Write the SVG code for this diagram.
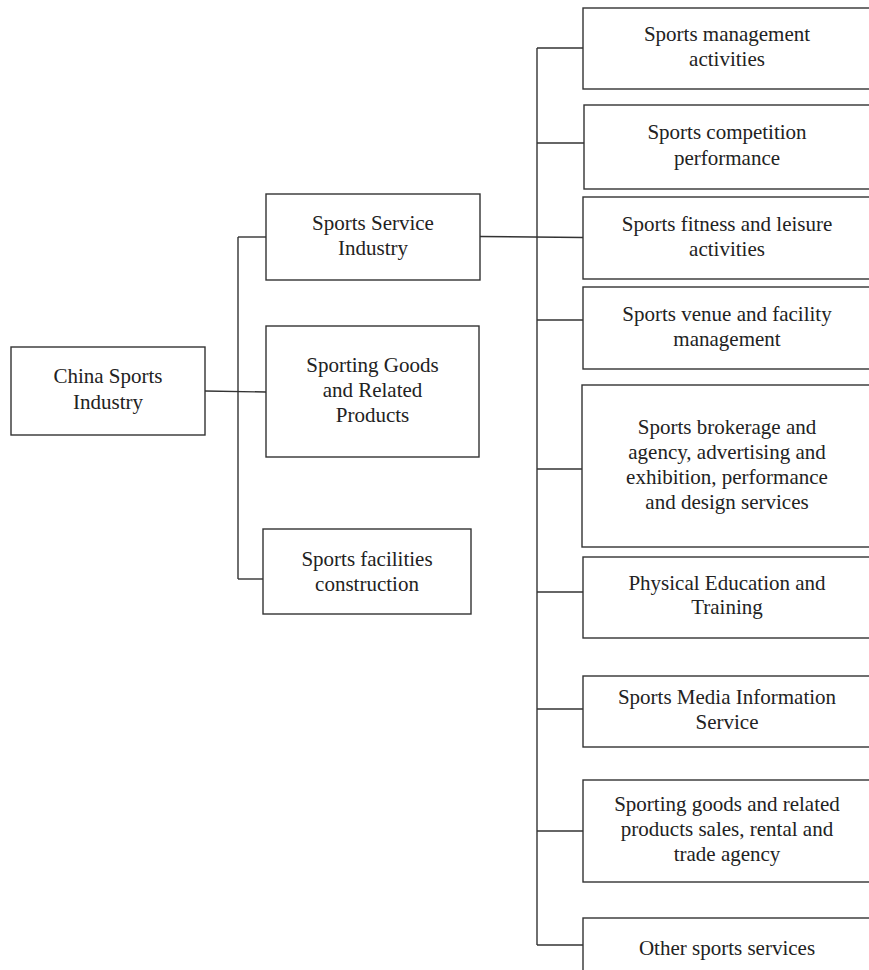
<svg xmlns="http://www.w3.org/2000/svg" width="869" height="970" viewBox="0 0 869 970">
<style>
.box{fill:#fff;stroke:#333;stroke-width:1.4}
.ln{fill:none;stroke:#333;stroke-width:1.4}
text{font-family:"Liberation Serif","Times New Roman",serif;font-size:21px;fill:#222;text-anchor:middle}
</style>
<rect width="869" height="970" fill="#fff"/>
<g id="connectors">
<path class="ln" d="M205,391 L266,392"/>
<path class="ln" d="M238,237 L238,579"/>
<path class="ln" d="M238,237 L266,237"/>
<path class="ln" d="M238,579 L263,579"/>
<path class="ln" d="M480,236.5 L583,237.5"/>
<path class="ln" d="M537,48 L537,945"/>
<path class="ln" d="M537,48 L583,48"/>
<path class="ln" d="M537,143 L584,143"/>
<path class="ln" d="M537,320 L583,320"/>
<path class="ln" d="M537,469 L583,469"/>
<path class="ln" d="M537,592 L583,592"/>
<path class="ln" d="M537,709 L583,709"/>
<path class="ln" d="M537,831 L583,831"/>
<path class="ln" d="M537,945 L583,945"/>
</g>
<g id="china">
<rect class="box" x="11" y="347" width="194" height="88"/>
<text x="108" y="383">China Sports</text>
<text x="108" y="408.5">Industry</text>
</g>
<g id="service">
<rect class="box" x="266" y="194" width="214" height="86"/>
<text x="373" y="229.5">Sports Service</text>
<text x="373" y="254.5">Industry</text>
</g>
<g id="goods">
<rect class="box" x="266" y="326" width="213" height="131"/>
<text x="372.5" y="372">Sporting Goods</text>
<text x="372.5" y="397">and Related</text>
<text x="372.5" y="422">Products</text>
</g>
<g id="facilities">
<rect class="box" x="263" y="529" width="208" height="85"/>
<text x="367" y="566">Sports facilities</text>
<text x="367" y="591">construction</text>
</g>
<g id="s1">
<rect class="box" x="583" y="8" width="300" height="81"/>
<text x="727" y="41">Sports management</text>
<text x="727" y="66">activities</text>
</g>
<g id="s2">
<rect class="box" x="584" y="105" width="300" height="84"/>
<text x="727" y="139">Sports competition</text>
<text x="727" y="164.5">performance</text>
</g>
<g id="s3">
<rect class="box" x="583" y="197" width="300" height="82"/>
<text x="727" y="230.5">Sports fitness and leisure</text>
<text x="727" y="255.5">activities</text>
</g>
<g id="s4">
<rect class="box" x="583" y="287" width="300" height="82"/>
<text x="727" y="320.5">Sports venue and facility</text>
<text x="727" y="345.5">management</text>
</g>
<g id="s5">
<rect class="box" x="582" y="385" width="300" height="162"/>
<text x="727" y="433.5">Sports brokerage and</text>
<text x="727" y="458.5">agency, advertising and</text>
<text x="727" y="483.5">exhibition, performance</text>
<text x="727" y="508.5">and design services</text>
</g>
<g id="s6">
<rect class="box" x="583" y="557" width="300" height="81"/>
<text x="727" y="590">Physical Education and</text>
<text x="727" y="614">Training</text>
</g>
<g id="s7">
<rect class="box" x="583" y="676" width="300" height="71"/>
<text x="727" y="704">Sports Media Information</text>
<text x="727" y="728.5">Service</text>
</g>
<g id="s8">
<rect class="box" x="583" y="780" width="300" height="102"/>
<text x="727" y="810.5">Sporting goods and related</text>
<text x="727" y="835.5">products sales, rental and</text>
<text x="727" y="860.5">trade agency</text>
</g>
<g id="s9">
<rect class="box" x="583" y="918" width="300" height="80"/>
<text x="727" y="955">Other sports services</text>
</g>
</svg>
